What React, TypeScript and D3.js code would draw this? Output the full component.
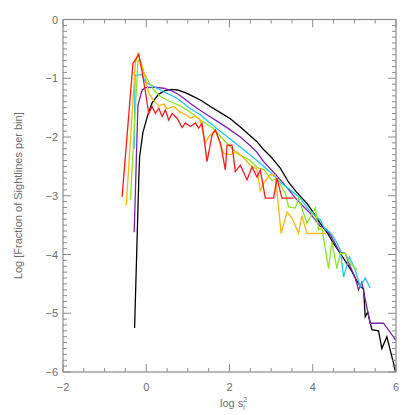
import React, { useEffect, useRef } from 'react';
import * as d3 from 'd3';

type Pt = [number, number];

// log s^2_i vs log fraction
const blackLine: Pt[] = [
  [-0.28, -5.25], [-0.18, -2.73], [-0.16, -2.34], [-0.08, -1.92], [0.04, -1.62], [0.14, -1.42],
  [0.3, -1.27], [0.45, -1.21], [0.6, -1.19], [0.75, -1.2], [0.95, -1.25], [1.1, -1.3], [1.3, -1.37],
  [1.54, -1.48], [1.86, -1.62], [2.02, -1.69], [2.26, -1.83], [2.45, -1.95], [2.66, -2.08],
  [2.8, -2.2], [3.0, -2.34], [3.22, -2.53], [3.42, -2.77], [3.6, -2.93], [3.86, -3.13],
  [4.0, -3.27], [4.18, -3.47], [4.35, -3.63], [4.5, -3.81], [4.65, -3.97], [4.82, -4.15],
  [4.95, -4.3], [5.06, -4.45], [5.15, -4.55], [5.22, -4.58], [5.26, -5.06], [5.32, -4.98],
  [5.42, -5.28], [5.58, -5.3], [5.66, -5.6], [5.78, -5.4], [5.94, -5.85], [6.02, -6.1]
];
const purpleLine: Pt[] = [
  [-0.29, -3.62], [-0.2, -1.46], [-0.1, -1.2], [-0.02, -1.16], [0.18, -1.15], [0.42, -1.17],
  [0.6, -1.21], [0.74, -1.26], [0.9, -1.34], [1.06, -1.43], [1.22, -1.51], [1.46, -1.62],
  [1.7, -1.73], [1.94, -1.84], [2.26, -2.0], [2.5, -2.15], [2.66, -2.26], [2.82, -2.42],
  [3.06, -2.6], [3.26, -2.76], [3.45, -2.92], [3.62, -3.07], [3.8, -3.2], [3.94, -3.3],
  [4.18, -3.52], [4.34, -3.58], [4.45, -3.7], [4.6, -3.9], [4.66, -3.97], [4.78, -3.98],
  [4.9, -4.2], [5.02, -4.4], [5.1, -4.6], [5.18, -4.47], [5.3, -4.9], [5.38, -5.17],
  [5.7, -5.17], [6.0, -5.46]
];
const cyanLine: Pt[] = [
  [-0.29, -2.2], [-0.27, -0.95], [-0.1, -0.94], [-0.02, -1.07], [0.18, -1.14], [0.42, -1.23],
  [0.74, -1.34], [1.06, -1.52], [1.3, -1.62], [1.46, -1.72], [1.86, -1.95], [2.26, -2.17],
  [2.66, -2.4], [2.98, -2.6], [3.22, -2.77], [3.46, -2.9], [3.7, -3.04], [3.94, -3.27],
  [4.18, -3.41], [4.3, -3.58], [4.42, -3.62], [4.54, -3.75], [4.66, -3.92], [4.74, -4.38],
  [4.88, -4.04], [5.02, -4.26], [5.14, -4.55], [5.26, -4.4], [5.38, -4.57]
];
const greenLine: Pt[] = [
  [-0.38, -3.07], [-0.2, -0.72], [-0.16, -0.68], [-0.07, -0.89], [0.06, -1.06], [0.18, -1.2],
  [0.34, -1.31], [0.58, -1.4], [0.82, -1.47], [1.06, -1.58], [1.3, -1.71], [1.62, -1.86],
  [1.86, -2.05], [2.18, -2.28], [2.5, -2.4], [2.66, -2.52], [2.82, -2.55], [3.02, -2.74],
  [3.14, -2.7], [3.34, -2.96], [3.42, -3.19], [3.58, -3.21], [3.66, -3.04], [3.86, -3.47],
  [4.06, -3.21], [4.14, -3.58], [4.22, -3.55], [4.38, -4.24], [4.46, -3.78], [4.58, -4.24],
  [4.66, -3.98], [4.78, -3.98], [4.9, -4.15], [5.06, -4.26]
];
const orangeLine: Pt[] = [
  [-0.48, -3.16], [-0.26, -0.74], [-0.2, -0.59], [-0.1, -0.78], [-0.02, -1.0], [0.06, -1.25],
  [0.18, -1.38], [0.3, -1.47], [0.42, -1.44], [0.5, -1.52], [0.66, -1.48], [0.82, -1.58],
  [0.98, -1.63], [1.06, -1.68], [1.18, -1.64], [1.3, -1.72], [1.42, -2.1], [1.5, -2.0],
  [1.66, -1.88], [1.86, -2.28], [2.02, -2.3], [2.18, -2.25], [2.34, -2.36], [2.5, -2.48],
  [2.66, -2.55], [2.74, -2.92], [2.82, -2.79], [2.98, -2.64], [3.1, -2.65], [3.24, -3.64],
  [3.38, -3.28], [3.5, -3.38], [3.66, -3.64], [3.74, -3.34], [3.86, -3.64], [4.32, -3.64]
];
const redLine: Pt[] = [
  [-0.58, -3.02], [-0.32, -0.75], [-0.18, -0.59], [-0.1, -0.89], [-0.02, -1.23], [0.06, -1.6],
  [0.14, -1.48], [0.22, -1.6], [0.3, -1.51], [0.38, -1.65], [0.46, -1.54], [0.54, -1.71],
  [0.62, -1.6], [0.74, -1.68], [0.86, -1.84], [0.94, -1.76], [1.06, -1.82], [1.18, -1.76],
  [1.26, -1.85], [1.34, -1.77], [1.46, -2.42], [1.58, -1.97], [1.66, -1.88], [1.78, -2.1],
  [1.9, -2.56], [1.94, -2.14], [2.06, -2.14], [2.14, -2.59], [2.26, -2.48], [2.42, -2.73],
  [2.54, -2.51], [2.66, -2.68], [2.74, -2.56], [2.86, -3.04], [3.06, -3.04], [3.14, -2.7],
  [3.26, -3.04], [3.54, -3.04]
];

const seriesColors = ['#000000', '#7a22a8', '#22c4f5', '#86e81e', '#ffb40a', '#ff1a1a'];
const seriesData = [blackLine, purpleLine, cyanLine, greenLine, orangeLine, redLine];

const xMajor = [-2, 0, 2, 4, 6];
const yMajor = [0, -1, -2, -3, -4, -5, -6];

const W = 415;
const H = 415;
const m = { left: 63, right: 396, top: 19.5, bottom: 372 };
const axisColor = '#8c8c8c';
const textColor = '#6e6e6e';

function label(v: number) {
  return v < 0 ? '\u2212' + Math.abs(v) : String(v);
}

export default function App() {
  const ref = useRef<SVGSVGElement>(null);

  useEffect(() => {
    const svg = d3.select(ref.current);
    svg.selectAll('*').remove();

    const x = d3.scaleLinear().domain([-2, 6]).range([m.left, m.right]);
    const y = d3.scaleLinear().domain([-6, 0]).range([m.bottom, m.top]);

    svg.append('defs').append('clipPath').attr('id', 'plot')
      .append('rect')
      .attr('x', m.left).attr('y', m.top)
      .attr('width', m.right - m.left).attr('height', m.bottom - m.top);

    const line = d3.line<Pt>().x(d => x(d[0])).y(d => y(d[1]));
    const g = svg.append('g').attr('clip-path', 'url(#plot)');
    seriesData.forEach((data, i) => {
      g.append('path')
        .attr('d', line(data))
        .attr('fill', 'none')
        .attr('stroke', seriesColors[i])
        .attr('stroke-width', 1.3)
        .attr('stroke-linejoin', 'miter');
    });

    // box
    svg.append('rect')
      .attr('x', m.left).attr('y', m.top)
      .attr('width', m.right - m.left).attr('height', m.bottom - m.top)
      .attr('fill', 'none').attr('stroke', axisColor).attr('stroke-width', 1.2);

    const ticks = svg.append('g').attr('stroke', axisColor).attr('stroke-width', 1);
    const xMinor = d3.range(-2, 6.01, 0.5);
    xMinor.forEach(v => {
      const len = xMajor.includes(v) ? 8 : 4;
      ticks.append('line').attr('x1', x(v)).attr('x2', x(v)).attr('y1', m.bottom).attr('y2', m.bottom - len);
      ticks.append('line').attr('x1', x(v)).attr('x2', x(v)).attr('y1', m.top).attr('y2', m.top + len);
    });
    const yMinor = d3.range(0, 61).map(k => -k / 10);
    yMinor.forEach(v => {
      const len = Math.abs(v - Math.round(v)) < 1e-6 ? 8 : 4;
      ticks.append('line').attr('y1', y(v)).attr('y2', y(v)).attr('x1', m.left).attr('x2', m.left + len);
      ticks.append('line').attr('y1', y(v)).attr('y2', y(v)).attr('x1', m.right).attr('x2', m.right - len);
    });

    const font = 'Helvetica, "Liberation Sans", Arial, sans-serif';
    svg.append('g').selectAll('text').data(xMajor).enter().append('text')
      .attr('x', d => x(d)).attr('y', m.bottom + 19)
      .attr('text-anchor', 'middle')
      .attr('font-family', font).attr('font-size', 11).attr('fill', textColor)
      .text(d => label(d));
    svg.append('g').selectAll('text').data(yMajor).enter().append('text')
      .attr('x', m.left - 5).attr('y', d => y(d) + 4)
      .attr('text-anchor', 'end')
      .attr('font-family', font).attr('font-size', 11).attr('fill', textColor)
      .text(d => label(d));

    const xl = svg.append('text')
      .attr('x', 220).attr('y', 407)
      .attr('font-family', font).attr('font-size', 11).attr('fill', textColor);
    xl.append('tspan').text('log s');
    xl.append('tspan').attr('dy', -5).attr('font-size', 7).text('2');
    xl.append('tspan').attr('dx', -4).attr('dy', 8).attr('font-size', 7).text('i');

    svg.append('text')
      .attr('transform', `translate(22, ${(m.top + m.bottom) / 2}) rotate(-90)`)
      .attr('text-anchor', 'middle')
      .attr('font-family', font).attr('font-size', 11).attr('fill', textColor)
      .text('Log [Fraction of Sightlines per bin]');
  }, []);

  return (
    <svg ref={ref} width={W} height={H}
      style={{ position: 'absolute', left: 0, top: 0, background: '#fff' }} />
  );
}
